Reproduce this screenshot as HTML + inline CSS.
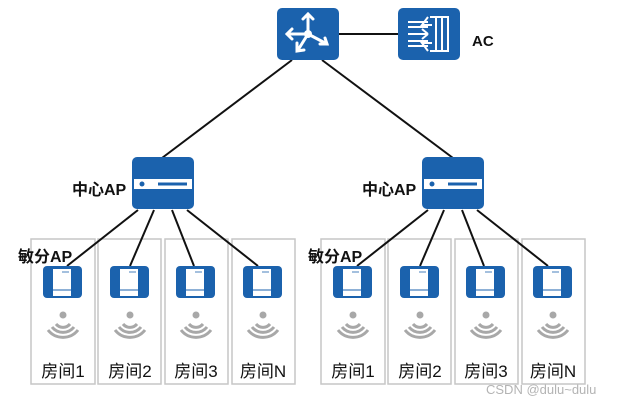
<!DOCTYPE html>
<html><head><meta charset="utf-8"><style>
html,body{margin:0;padding:0;background:#fff;width:621px;height:405px;overflow:hidden}
svg{display:block}
text{font-family:"Liberation Sans","Noto Sans CJK SC",sans-serif}
</style></head><body>
<svg width="621" height="405" viewBox="0 0 621 405" xmlns="http://www.w3.org/2000/svg">
<defs>
<g id="ap">
  <rect x="0" y="0" width="39" height="32" rx="4" fill="#1b62ad"/>
  <rect x="10" y="3" width="18" height="27" fill="#fff"/>
  <line x1="10" y1="24" x2="28" y2="24" stroke="#1b62ad" stroke-width="1"/>
  <line x1="19" y1="6" x2="26" y2="6" stroke="#1b62ad" stroke-width="0.8"/>
</g>
<g id="wifi" fill="none" stroke="#a8a8a8" stroke-width="3">
  <circle cx="0" cy="0" r="3.5" fill="#a8a8a8" stroke="none"/>
  <path d="M-7,9 A9,9 0 0 0 7,9"/>
  <path d="M-11,12 A14,14 0 0 0 11,12"/>
  <path d="M-15,15 A19,19 0 0 0 15,15"/>
</g>
<g id="cap">
  <rect x="0" y="0" width="62" height="52" rx="5" fill="#1b62ad"/>
  <rect x="2" y="22" width="58" height="10" fill="#fff"/>
  <circle cx="10" cy="27" r="2.5" fill="#1b62ad"/>
  <rect x="26" y="25.5" width="29" height="3" fill="#1b62ad"/>
</g>
<g id="grp">
  <g fill="none" stroke="#c6c6c6" stroke-width="1.5">
    <rect x="31" y="239" width="64" height="145"/>
    <rect x="98" y="239" width="63" height="145"/>
    <rect x="165" y="239" width="63" height="145"/>
    <rect x="232" y="239" width="63" height="145"/>
  </g>
  <g stroke="#111" stroke-width="2">
    <line x1="138" y1="210" x2="67" y2="266"/>
    <line x1="154" y1="210" x2="130" y2="266"/>
    <line x1="172" y1="210" x2="194" y2="266"/>
    <line x1="187" y1="210" x2="258" y2="266"/>
  </g>
  <use href="#cap" x="132" y="157"/>
  <use href="#ap" x="43" y="266"/>
  <use href="#ap" x="110" y="266"/>
  <use href="#ap" x="176" y="266"/>
  <use href="#ap" x="243" y="266"/>
  <use href="#wifi" x="63" y="315"/>
  <use href="#wifi" x="130" y="315"/>
  <use href="#wifi" x="196" y="315"/>
  <use href="#wifi" x="263" y="315"/>
  <g font-size="17" fill="#111" text-anchor="middle">
    <text x="63" y="377">房间1</text>
    <text x="130" y="377">房间2</text>
    <text x="196" y="377">房间3</text>
    <text x="263" y="377">房间N</text>
  </g>
  <text x="72" y="195" font-size="16" font-weight="bold" fill="#111">中心AP</text>
  <text x="18" y="262" font-size="16" font-weight="bold" fill="#111">敏分AP</text>
</g>
</defs>
<line x1="292" y1="60" x2="162" y2="158" stroke="#111" stroke-width="2"/>
<line x1="322" y1="60" x2="453" y2="158" stroke="#111" stroke-width="2"/>
<line x1="338" y1="34" x2="398" y2="34" stroke="#111" stroke-width="2"/>
<use href="#grp"/>
<use href="#grp" x="290"/>
<!-- router -->
<rect x="277" y="8" width="62" height="52" rx="5" fill="#1b62ad"/>
<g stroke="#fff" stroke-width="3" fill="none" stroke-linecap="round">
  <circle cx="308" cy="34" r="4" fill="#fff" stroke="none"/>
  <path d="M308,34 L308,14 M303,19 L308,14 L313,19"/>
  <path d="M308,34 L287,34 M292,29 L287,34 L292,39"/>
  <path d="M308,34 L298,50 M297,43 L297,51 L304,50"/>
  <path d="M308,34 L327,44 M320,44 L327,44 L325,38"/>
</g>
<!-- AC -->
<rect x="398" y="8" width="62" height="52" rx="5" fill="#1b62ad"/>
<g stroke="#fff" stroke-width="2" fill="none">
  <path d="M430,17 L448,17 L448,51 L430,51"/>
  <path d="M408,22 L428,22 M408,27 L428,27 M408,34 L428,34 M408,41 L428,41 M408,46 L428,46"/>
  <path d="M428,17 L422,25 L432,25 M428,34 L422,29 M428,34 L422,39 M428,51 L422,43 L432,43"/>
  <path d="M436,17 L436,51 M442,17 L442,51"/>
</g>
<text x="472" y="46" font-size="15" font-weight="bold" fill="#111">AC</text>
<text x="486" y="394" font-size="13" fill="#b4b4b4">CSDN @dulu~dulu</text>
</svg>
</body></html>
